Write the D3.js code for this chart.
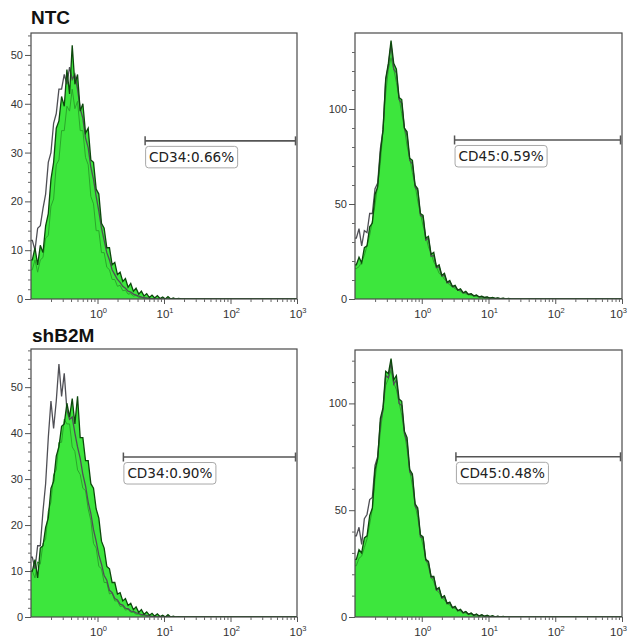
<!DOCTYPE html>
<html><head><meta charset="utf-8">
<script src="https://cdn.jsdelivr.net/npm/d3@7"></script>
<style>body{margin:0;background:#fff}</style></head>
<body>
<svg id="c" width="628" height="642"></svg>
<script>
// ---------- DATA ----------
const groups = ["NTC", "shB2M"];
const markers = ["CD34", "CD45"];
const gatePct = [["0.66%", "0.59%"], ["0.90%", "0.48%"]];
const gateStart = [[5.2, 3.1], [2.45, 3.25]];
const gateEnd = [[1000, 1000], [1000, 1000]];
const gateLevel = [[32.4, 83.7], [34.8, 75]];
const yMax = [[54.5, 140], [58.3, 125]];
const yMajorTicks = [[[0, 10, 20, 30, 40, 50], [0, 50, 100]], [[0, 10, 20, 30, 40, 50], [0, 50, 100]]];
const yMinorStep = [[2, 10], [2, 10]];
const xDecades = [1, 10, 100, 1000];
const xDecadeExp = ["0", "1", "2", "3"];
const xDomain = [0.1, 1000];
// histogram bins: log10 start and width
const binStart = -1, binStep = 0.04;

// panel NTC / CD34
const ntcCD34Sample = [8,10.5,7,11,9.5,15,17.5,24.5,28,35,36.5,41.5,39.5,47,42,52,44,46,38.5,40,34,35,28.5,28,22.5,21.5,15.5,14.5,10.5,10.5,7,7.5,5,5.5,3.6,4.2,2.4,3.2,1.6,2.2,1,1.6,0.6,1.1,0.3,0.8,0.2,0.7,0.1,0.4,0,0.5,0,0.2,0,0.1,0,0,0,0];
const ntcCD34Light  = [6,8,5.5,8,8.5,12.5,13,19,20.5,27.5,28.5,34.5,34.5,39.5,38.5,43,39,40.5,34.5,34.5,29,27.5,21,19.5,14,14,9.5,9.5,6.5,6,4,4,2.6,2.8,1.7,1.8,1,1.1,0.6,0.7,0.3,0.4,0.1,0.3,0,0.1,0,0,0,0,0,0,0,0,0,0,0,0,0,0];
const ntcCD34Ctrl   = [12,10,14.5,15,18.5,21.5,28,30,36,38,43,43,46,44,47.5,45,46,43,39,37,33,31,27,24.5,21,18,14.5,12,9.5,8,6,5,4,3.4,2.6,2.2,1.6,1.4,1,0.8,0.6,0.4,0.3,0.2,0.1,0,0,0,0,0,0,0,0,0,0,0,0,0,0,0];
// panel NTC / CD45
const ntcCD45Sample = [18,22,19,27,28,38,40,55,59,77,89,116,124,136,124,121,106,105,90,88,74,73,60,58,45,44,32,33,23.5,24.5,17,18,12.5,13.5,8.8,9.8,6.6,7.2,4.7,5.4,3.3,4,2.4,2.8,1.7,2.1,1.1,1.5,0.8,1.1,0.5,0.8,0.3,0.6,0.2,0.4,0.1,0.3,0,0.1];
const ntcCD45Light  = [16,17,19.5,23,28,33.5,41,49.5,60,71.5,89,108,121,127,121,114,106,97.5,90,80.5,74,66.5,60,51.5,45,38.5,33,27.5,24,19.5,17,13.5,12.5,10.3,9,7.3,6.5,5.4,4.8,3.9,3.3,2.7,2.4,1.9,1.7,1.3,1.1,0.8,0.7,0.5,0.5,0.3,0.3,0.2,0.2,0.1,0.1,0,0,0];
const ntcCD45Ctrl   = [32,37,28,36,35,45,45,58,61,79,89,115,123,134,121,119,105,103,90,86,73,71,59,57,44,43,31,32,22.5,23,16.5,17,12,12.5,8.5,9,6.4,6.6,4.6,4.8,3.2,3.6,2.3,2.6,1.6,1.9,1,1.3,0.7,0.9,0.4,0.7,0.2,0.5,0.1,0.3,0.1,0.2,0,0.1];
// panel shB2M / CD34
const shCD34Sample  = [10,12.5,8.5,15,15.5,19.5,21.5,28,29.5,35,37,41.5,42,46.5,43.5,47.5,42,48,39,39,34,34,29,28,23.5,21.5,16.5,15,11,10.5,7.5,7.5,5,5.3,3.5,4,2.5,3,1.6,2.2,1,1.6,0.6,1.1,0.4,0.8,0.2,0.7,0.1,0.4,0,0.5,0,0.2,0,0.1,0,0,0,0];
const shCD34Light   = [10,8.5,12,11.5,16,17,23,25,31,32,38,38,43,42,42,37,36,32,31,28,27.5,23.5,21,16,15,11,10.5,7.5,7.5,5,5.2,3.5,3.5,2.3,2.4,1.5,1.7,1,1,0.6,0.6,0.3,0.4,0.1,0.2,0,0.1,0,0,0,0,0,0,0,0,0,0,0,0,0];
const shCD34Ctrl    = [13,10.5,15.5,15.5,23,29,39,47,41,47,55,48,53,45,43,43.5,40,37,34.5,31,28.5,25,22.5,19,16.5,13.5,11.5,9,8,5.8,5.3,4,3.7,2.8,2.6,1.9,1.8,1.3,1.2,0.9,0.8,0.5,0.5,0.3,0.3,0.1,0.2,0,0,0,0,0,0,0,0,0,0,0,0,0];
// panel shB2M / CD45
const shCD45Sample  = [27,31.5,30,37,38,47.5,51,69,74,93,98,115,114,121,111,113,102,101,87,84,69,67,53,51,38.5,37.5,27,26,19,19,13,13.8,9.2,10,6.4,7,4.4,5,3,3.6,2,2.6,1.3,1.9,0.8,1.4,0.5,1.1,0.3,0.8,0.2,0.6,0.1,0.4,0,0.3,0,0.1,0,0];
const shCD45Light   = [24,27.5,28.5,32.5,36.5,43.5,50.5,64.5,74.5,86.5,97.5,108.5,111.5,115.5,109.5,106.5,100.5,94.5,86.5,78.5,68.5,61.5,52.5,46.5,38.5,33.5,27,23.5,18.5,16.5,12.5,11.4,9,8,6.3,5.6,4.3,4,3,2.8,2,1.9,1.4,1.3,0.9,0.9,0.6,0.7,0.4,0.5,0.3,0.3,0.2,0.2,0.1,0.1,0,0,0,0];
const shCD45Ctrl    = [38,42,34,46,48,55,56,71,75,91,97,113,112,119,109,111,100,99,86,82,68,66,52,50,37.5,37,26.5,25.5,18.5,18.5,12.5,13.2,8.8,9.4,6.2,6.6,4.3,4.6,2.9,3.3,1.9,2.4,1.2,1.7,0.7,1.2,0.4,0.9,0.2,0.6,0.1,0.4,0,0.3,0,0.1,0,0,0,0];

const sampleSeries = [[ntcCD34Sample, ntcCD45Sample], [shCD34Sample, shCD45Sample]];
const lightSeries  = [[ntcCD34Light, ntcCD45Light], [shCD34Light, shCD45Light]];
const ctrlSeries   = [[ntcCD34Ctrl, ntcCD45Ctrl], [shCD34Ctrl, shCD45Ctrl]];

// ---------- LAYOUT ----------
const W = 628;
const boxes = [
  [{l: 31, t: 33, r: 297, b: 299}, {l: 355, t: 33, r: 622, b: 299}],
  [{l: 31, t: 349, r: 297, b: 617}, {l: 355, t: 350, r: 622, b: 617}]
];
const titlePos = [{x: 31, y: 24}, {x: 32, y: 342}];

const svg = d3.select("#c");
const FONT = "'Liberation Sans', Arial, sans-serif";

groups.forEach((g, gi) => {
  svg.append("text").attr("x", titlePos[gi].x).attr("y", titlePos[gi].y)
    .attr("font-family", FONT).attr("font-weight", "bold").attr("font-size", 19)
    .attr("fill", "#111").text(g);

  markers.forEach((m, mi) => {
    const bx = boxes[gi][mi];
    const x = d3.scaleLog().domain(xDomain).range([bx.l, bx.r]);
    const y = d3.scaleLinear().domain([0, yMax[gi][mi]]).range([bx.b, bx.t]);
    const pid = "clip" + gi + mi;
    svg.append("clipPath").attr("id", pid).append("rect")
      .attr("x", bx.l).attr("y", bx.t).attr("width", bx.r - bx.l).attr("height", bx.b - bx.t);
    const gp = svg.append("g").attr("clip-path", `url(#${pid})`);

    const toPts = arr => {
      const pts = arr.map((v, i) => [Math.pow(10, binStart + binStep * (i + 0.5)), v]);
      pts.unshift([xDomain[0], arr[0]]);
      pts.push([xDomain[1], 0]);
      return pts;
    };
    const line = d3.line().x(d => x(d[0])).y(d => y(d[1]));
    const area = d3.area().x(d => x(d[0])).y0(y(0)).y1(d => y(d[1]));

    const sPts = toPts(sampleSeries[gi][mi]);
    gp.append("path").attr("d", area(sPts)).attr("fill", "#3de63d");
    gp.append("path").attr("d", line(toPts(lightSeries[gi][mi])))
      .attr("fill", "none").attr("stroke", "#2aa62a").attr("stroke-width", 1);
    gp.append("path").attr("d", line(toPts(ctrlSeries[gi][mi])))
      .attr("fill", "none").attr("stroke", "#4f4f55").attr("stroke-width", 1.3);
    gp.append("path").attr("d", line(sPts))
      .attr("fill", "none").attr("stroke", "#0d480d").attr("stroke-width", 1.3);

    // frame
    svg.append("rect").attr("x", bx.l).attr("y", bx.t)
      .attr("width", bx.r - bx.l).attr("height", bx.b - bx.t)
      .attr("fill", "none").attr("stroke", "#4a4a4a").attr("stroke-width", 1.2);

    // y axis
    const yMinor = d3.range(0, yMax[gi][mi], yMinorStep[gi][mi]).filter(v => !yMajorTicks[gi][mi].includes(v));
    const ya = svg.append("g").attr("transform", `translate(${bx.l},0)`)
      .call(d3.axisLeft(y).tickValues(yMajorTicks[gi][mi]).tickSize(6).tickPadding(2).tickFormat(d3.format("d")));
    ya.select(".domain").remove();
    ya.selectAll("line").attr("stroke", "#555");
    ya.selectAll("text").attr("font-family", FONT).attr("font-size", 11).attr("fill", "#333");
    const ym = svg.append("g").attr("transform", `translate(${bx.l},0)`)
      .call(d3.axisLeft(y).tickValues(yMinor).tickSize(3).tickFormat(""));
    ym.select(".domain").remove();
    ym.selectAll("line").attr("stroke", "#666");

    // x axis
    const xMinor = [];
    [0.1, 1, 10, 100].forEach(d => { for (let k = 2; k <= 9; k++) xMinor.push(d * k); });
    const xa = svg.append("g").attr("transform", `translate(0,${bx.b})`)
      .call(d3.axisBottom(x).tickValues(xDecades).tickSize(5).tickFormat(""));
    xa.select(".domain").remove();
    xa.selectAll("line").attr("stroke", "#555");
    const xm = svg.append("g").attr("transform", `translate(0,${bx.b})`)
      .call(d3.axisBottom(x).tickValues(xMinor).tickSize(3).tickFormat(""));
    xm.select(".domain").remove();
    xm.selectAll("line").attr("stroke", "#666");
    xDecades.forEach((d, k) => {
      const t = svg.append("text").attr("x", x(d) + 1).attr("y", bx.b + 19)
        .attr("text-anchor", "middle").attr("font-family", FONT).attr("font-size", 11.5).attr("fill", "#333");
      t.append("tspan").text("10");
      t.append("tspan").attr("dy", -5).attr("font-size", 7.5).text(xDecadeExp[k]);
      const bb = t.node().getBBox();
      if (bb.x + bb.width > W - 1) t.attr("x", x(d) + 1 - (bb.x + bb.width - (W - 1)));
    });

    // gate
    const gy = y(gateLevel[gi][mi]);
    const gx0 = x(gateStart[gi][mi]), gx1 = x(gateEnd[gi][mi]) - 1.5;
    svg.append("line").attr("x1", gx0).attr("x2", gx1).attr("y1", gy).attr("y2", gy)
      .attr("stroke", "#555").attr("stroke-width", 1.6);
    [gx0, gx1].forEach(gx => svg.append("line").attr("x1", gx).attr("x2", gx)
      .attr("y1", gy - 4.5).attr("y2", gy + 4.5).attr("stroke", "#555").attr("stroke-width", 1.5));
    const lg = svg.append("g");
    const lt = lg.append("text").attr("x", gx0 + 4).attr("y", gy + 21)
      .attr("font-family", "'DejaVu Sans', sans-serif").attr("font-size", 13.6).attr("fill", "#222")
      .text(m + ":" + gatePct[gi][mi]);
    const w = lt.node().getComputedTextLength();
    lg.insert("rect", "text").attr("x", gx0 + 0.5).attr("y", gy + 5.5).attr("width", w + 7).attr("height", 21.5)
      .attr("rx", 3).attr("fill", "#fff").attr("stroke", "#a8a8a8").attr("stroke-width", 1);
  });
});
</script>
</body></html>
